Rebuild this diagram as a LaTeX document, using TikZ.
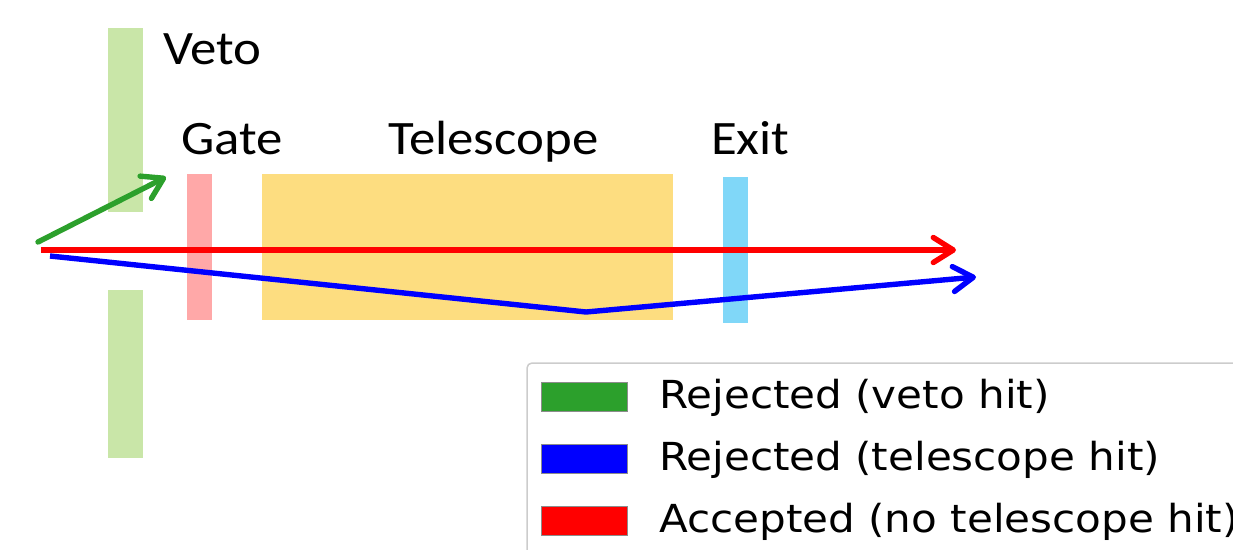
\documentclass[tikz,border=0pt]{standalone}
\usepackage{fontspec}
\setmainfont[FakeStretch=1.1]{Carlito}
\newfontfamily\legendfont[FakeStretch=1.09]{DejaVu Sans}
\usetikzlibrary{arrows.meta}

\definecolor{vetoC}{RGB}{201,230,168}
\definecolor{gateC}{RGB}{255,168,168}
\definecolor{teleC}{RGB}{253,221,128}
\definecolor{exitC}{RGB}{128,215,248}
\definecolor{vetoHit}{RGB}{44,160,44}
\definecolor{teleHit}{RGB}{0,0,255}
\definecolor{accept}{RGB}{255,0,0}
\definecolor{frameC}{RGB}{204,204,204}

\tikzset{
  slab/.style={inner sep=0pt, outer sep=0pt, draw=none, anchor=north west},
  lbl/.style={font=\fontsize{48}{48}\selectfont, inner sep=0pt, anchor=base west},
  track/.style={line width=5.4pt, line cap=round, line join=round,
    -{Straight Barb[length=20pt, width=25pt, line cap=round, line join=round]}},
  patch/.style={inner sep=0pt, outer sep=0pt, minimum width=86pt, minimum height=29pt,
    anchor=north west, draw=black!45, line width=0.8pt},
  entry/.style={font=\legendfont\fontsize{38.6}{38.6}\selectfont, inner sep=0pt, anchor=base west},
}

\begin{document}
\begin{tikzpicture}[x=1pt, y=-1pt]
  \useasboundingbox (0,0) rectangle (1233,549);

  % detector layers
  \node[slab, fill=vetoC, minimum width=35pt, minimum height=184pt] (vetoTop) at (108,28) {};
  \node[slab, fill=vetoC, minimum width=35pt, minimum height=168pt] (vetoBot) at (108,290) {};
  \node[slab, fill=gateC, minimum width=25pt, minimum height=146pt] (gate) at (187,174) {};
  \node[slab, fill=teleC, minimum width=411pt, minimum height=146pt] (tele) at (262,174) {};
  \node[slab, fill=exitC, minimum width=25pt, minimum height=146pt] (exit) at (723,177) {};

  % layer names
  \node[lbl] (vetoLbl) at (163,64) {Veto};
  \node[lbl] (gateLbl) at (181,154) {Gate};
  \node[lbl] (teleLbl) at (388,154) {Telescope};
  \node[lbl] (exitLbl) at (711,154) {Exit};

  % particle tracks
  \coordinate (gS) at (38,242);
  \coordinate (gE) at (166,177);
  \coordinate (rS) at (41,250);
  \coordinate (rE) at (956,250);
  \coordinate (bS) at (50,256);
  \coordinate (bK) at (586,312);
  \coordinate (bE) at (976,277);
  \draw[track, draw=vetoHit] (gS) -- (gE);
  \draw[track, draw=accept, line cap=butt] (rS) -- (rE);
  \draw[track, draw=teleHit, line cap=butt] (bS) -- (bK) -- (bE);

  % legend
  \draw[frameC, line width=1.5pt, rounded corners=5pt] (527,363) rectangle (1260,580);
  \node[patch, fill=vetoHit] (p1) at (541,382) {};
  \node[patch, fill=teleHit] (p2) at (541,444) {};
  \node[patch, fill=accept]  (p3) at (541,506) {};
  \node[entry] (t1) at (659,408) {Rejected (veto hit)};
  \node[entry] (t2) at (659,470) {Rejected (telescope hit)};
  \node[entry] (t3) at (659,532) {Accepted (no telescope hit)};
\end{tikzpicture}
\end{document}
